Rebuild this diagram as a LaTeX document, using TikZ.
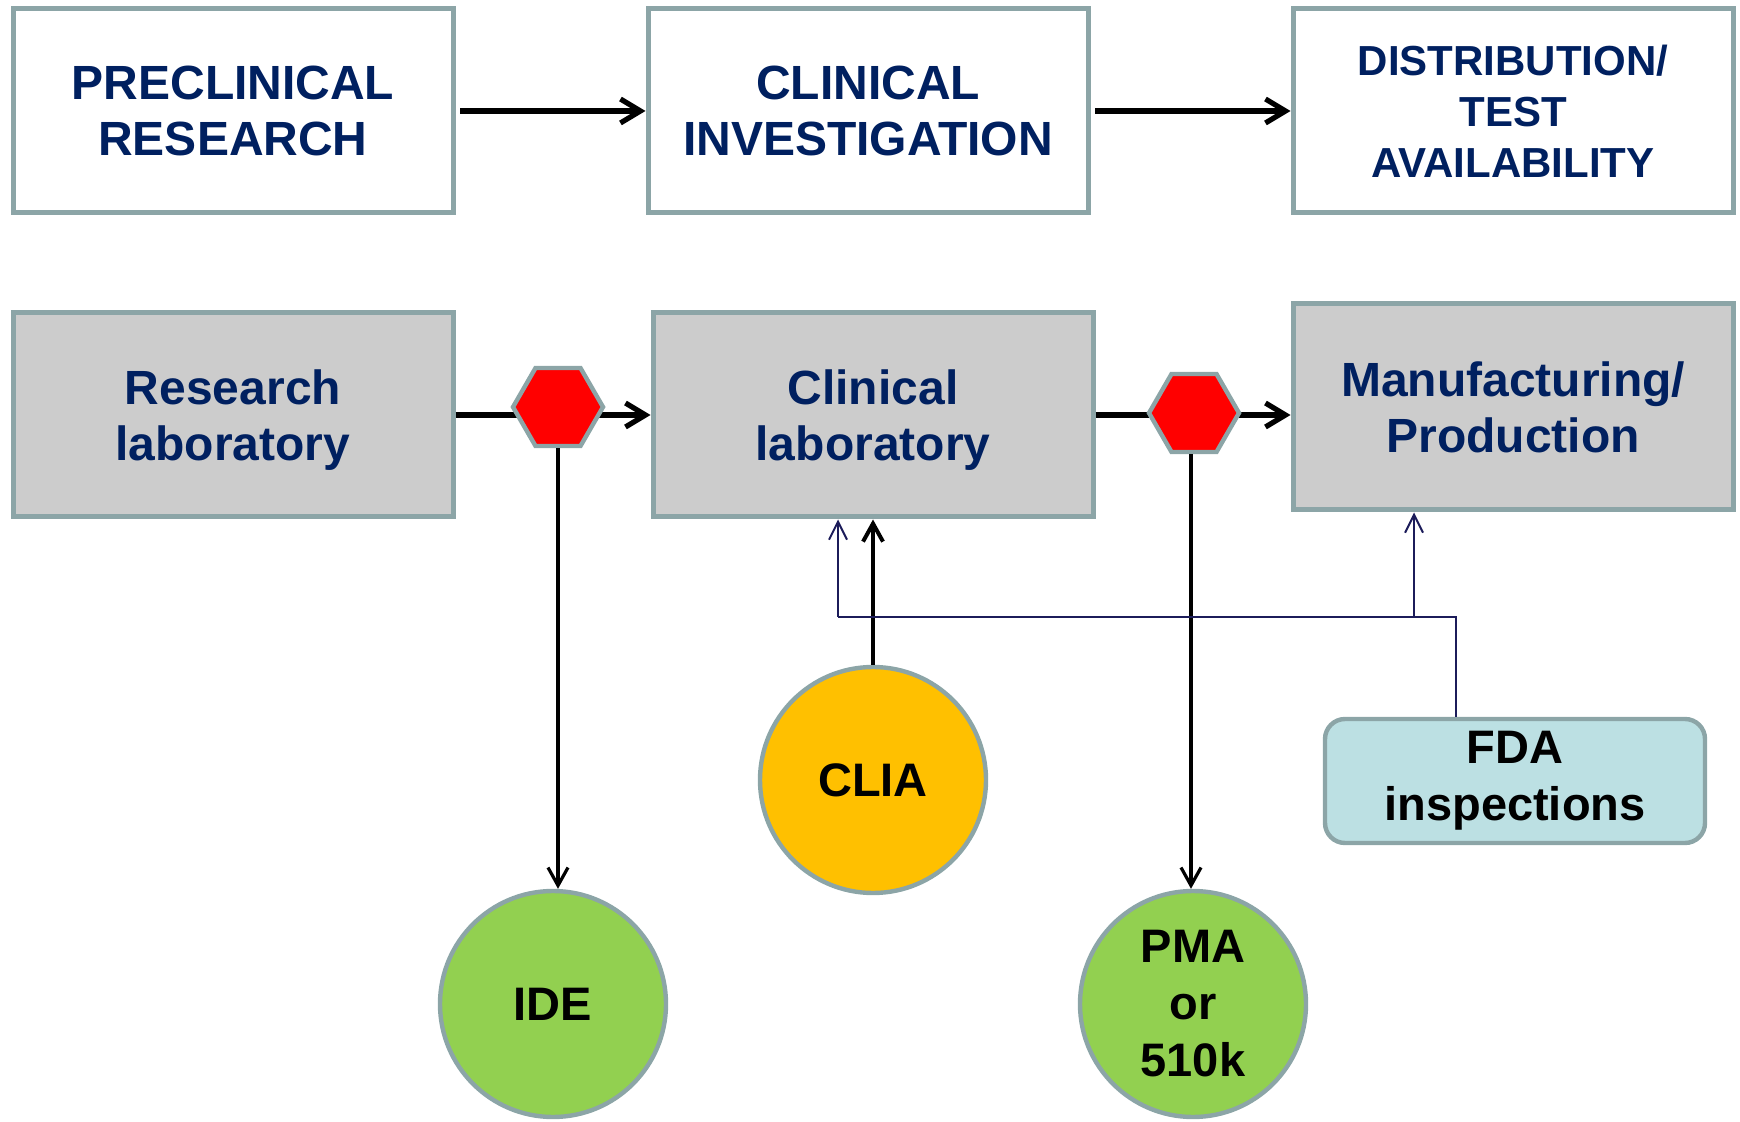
\documentclass[tikz,border=0pt]{standalone}
\usepackage{fontspec}
\setmainfont{Liberation Sans}
\usepackage{xcolor}
\usetikzlibrary{shapes.geometric,arrows.meta}

\definecolor{navytext}{HTML}{002060}
\definecolor{edgegray}{HTML}{8CA5A7}
\definecolor{boxgray}{HTML}{CCCCCC}
\definecolor{stopred}{HTML}{FF0000}
\definecolor{cliayellow}{HTML}{FFC000}
\definecolor{okgreen}{HTML}{92D050}
\definecolor{fdablue}{HTML}{BCE0E3}
\definecolor{busnavy}{HTML}{1C1C5A}

\begin{document}
\begin{tikzpicture}[x=0.5pt,y=-0.5pt,
    phasebox/.style={draw=edgegray,line width=2.5pt,fill=white,minimum width=220pt,minimum height=102pt,
        align=center,text=navytext,font=\fontsize{24}{28}\selectfont\bfseries},
    labbox/.style={phasebox,fill=boxgray,text depth=0pt},
    stophex/.style={regular polygon,regular polygon sides=6,draw=edgegray,line width=2.2pt,fill=stopred,
        minimum size=45pt,inner sep=0pt},
    reqcircle/.style={circle,draw=edgegray,line width=2.2pt,minimum size=113pt,inner sep=0pt,
        align=center,font=\fontsize{23.5}{28.5}\selectfont\bfseries},
    bigarrow/.style={line width=2.6pt,-{Straight Barb[length=10pt,width=12pt]}},
    downarrow/.style={line width=1.6pt,-{Straight Barb[length=9pt,width=10pt]}},
    busline/.style={draw=busnavy,line width=1pt},
    busarrow/.style={busline,-{Straight Barb[length=9pt,width=9pt]}}]

        \useasboundingbox (0,0) rectangle (1740,1122);

        % Phases
        \node[phasebox] (preclin) at (233,111) {PRECLINICAL\\RESEARCH};
        \node[phasebox] (clininv) at (868,111) {CLINICAL\\INVESTIGATION};
        \node[phasebox,font=\fontsize{21}{25.5}\selectfont\bfseries] (distrib) at (1513,111) {DISTRIBUTION/\\TEST\\AVAILABILITY};
        \draw[bigarrow] (460,111) -- (clininv.west);
        \draw[bigarrow] (1095,111) -- (distrib.west);

        % Laboratories
        \node[labbox] (reslab) at (233,415) {Research\\laboratory};
        \node[labbox] (clinlab) at (873,415) {Clinical\\laboratory};
        \node[labbox,minimum height=103pt] (manuf) at (1513,407) {Manufacturing/\\Production};
        \draw[bigarrow] (reslab.east) -- (clinlab.west);
        \draw[bigarrow] (clinlab.east) -- (clinlab.east -| manuf.west);

        % Stops
        \node[stophex] (hexide) at (558,407) {};
        \node[stophex] (hexpma) at (1194,413) {};

        % Requirements
        \node[reqcircle,fill=okgreen] (ide) at (553,1004) {IDE};
        \node[reqcircle,fill=cliayellow] (clia) at (873,780) {CLIA};
        \node[reqcircle,fill=okgreen] (pma) at (1193,1004) {PMA\\or\\510k};
        \node[draw=edgegray,line width=2.2pt,fill=fdablue,rounded corners=10pt,minimum width=190pt,minimum height=62pt,
            align=center,font=\fontsize{23.5}{28.5}\selectfont\bfseries] (fda) at (1515,781) {FDA\\inspections};

        \draw[downarrow] (hexide.south) -- (hexide.south |- ide.north);
        \draw[downarrow] (hexpma.south -| 1191,0) -- (1191,0 |- pma.north);
        \draw[line width=2pt,-{Straight Barb[length=9pt,width=10pt]}] (clia.north) -- (clinlab.south);

        % Inspections
        \coordinate (busL) at (838,617);
        \coordinate (busM) at (1414,617);
        \coordinate (busR) at (1456,617);
        \draw[busline] (fda.north -| busR) -- (busR) -- (busL);
        \draw[busarrow] (busL) -- (busL |- clinlab.south);
        \draw[busarrow] (busM) -- (busM |- manuf.south);
    \end{tikzpicture}
\end{document}
